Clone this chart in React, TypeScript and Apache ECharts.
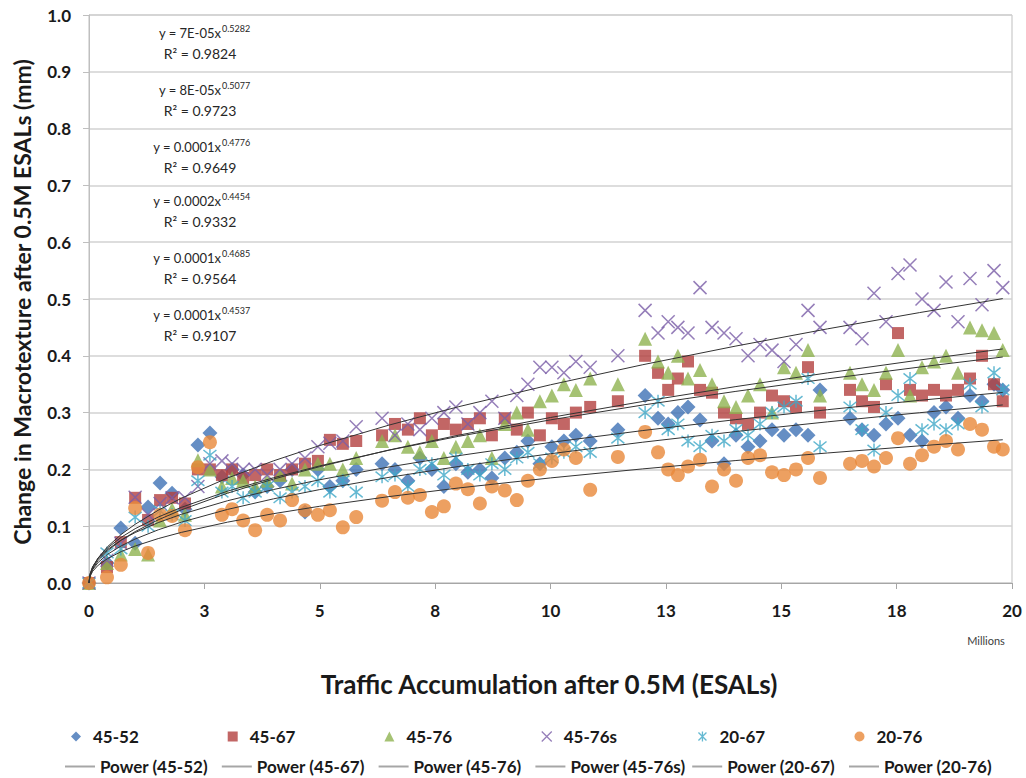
import React, { useEffect, useRef } from "react";
import * as echarts from "echarts";

// ---- data (x in millions of ESALs after 0.5M) ----
const X = [0, 0.39, 0.69, 1.0, 1.28, 1.54, 1.8, 2.08, 2.36, 2.62, 2.88, 3.1, 3.34, 3.6, 3.86, 4.14, 4.4, 4.68, 4.96, 5.22, 5.5, 5.79, 6.35, 6.63, 6.91, 7.17, 7.43, 7.69, 7.95, 8.21, 8.47, 8.73, 9.01, 9.27, 9.51, 9.77, 10.03, 10.29, 10.55, 10.86, 11.46, 12.05, 12.33, 12.55, 12.76, 12.98, 13.24, 13.5, 13.76, 14.02, 14.28, 14.54, 14.8, 15.06, 15.32, 15.58, 15.84, 16.49, 16.75, 17.01, 17.27, 17.53, 17.79, 18.05, 18.31, 18.57, 18.83, 19.09, 19.35, 19.61, 19.8];

const S45_52 = [0, 0.035, 0.097, 0.07, 0.134, 0.176, 0.158, 0.13, 0.243, 0.264, 0.187, 0.2, 0.19, 0.16, 0.17, 0.18, 0.2, 0.125, 0.2, 0.17, 0.18, 0.2, 0.21, 0.2, 0.18, 0.22, 0.2, 0.17, 0.21, 0.195, 0.2, 0.185, 0.22, 0.23, 0.25, 0.21, 0.24, 0.25, 0.26, 0.25, 0.27, 0.33, 0.29, 0.28, 0.3, 0.31, 0.287, 0.25, 0.21, 0.26, 0.24, 0.25, 0.27, 0.26, 0.27, 0.26, 0.34, 0.29, 0.27, 0.26, 0.28, 0.29, 0.26, 0.25, 0.3, 0.31, 0.29, 0.33, 0.32, 0.35, 0.34];
const S45_67 = [0, 0.028, 0.072, 0.15, 0.111, 0.146, 0.15, 0.14, 0.2, 0.2, 0.19, 0.2, 0.185, 0.19, 0.2, 0.19, 0.2, 0.21, 0.215, 0.252, 0.245, 0.25, 0.26, 0.28, 0.27, 0.29, 0.26, 0.28, 0.27, 0.28, 0.29, 0.26, 0.29, 0.27, 0.3, 0.26, 0.29, 0.28, 0.3, 0.31, 0.32, 0.4, 0.37, 0.34, 0.36, 0.39, 0.34, 0.335, 0.3, 0.29, 0.28, 0.3, 0.33, 0.32, 0.31, 0.38, 0.3, 0.34, 0.32, 0.31, 0.35, 0.44, 0.34, 0.33, 0.34, 0.33, 0.34, 0.36, 0.4, 0.35, 0.32];
const S45_76 = [0, 0.035, 0.05, 0.06, 0.05, 0.11, 0.13, 0.12, 0.216, 0.2, 0.17, 0.185, 0.18, 0.17, 0.18, 0.19, 0.175, 0.2, 0.21, 0.21, 0.2, 0.22, 0.25, 0.26, 0.24, 0.23, 0.25, 0.22, 0.24, 0.25, 0.26, 0.22, 0.28, 0.3, 0.27, 0.32, 0.33, 0.35, 0.34, 0.36, 0.35, 0.43, 0.39, 0.37, 0.4, 0.36, 0.375, 0.35, 0.32, 0.31, 0.33, 0.35, 0.3, 0.38, 0.37, 0.41, 0.33, 0.37, 0.35, 0.34, 0.37, 0.41, 0.33, 0.38, 0.39, 0.4, 0.37, 0.45, 0.445, 0.44, 0.41];
const S45_76s = [0, 0.04, 0.07, 0.151, 0.12, 0.14, 0.15, 0.15, 0.17, 0.21, 0.215, 0.21, 0.2, 0.2, 0.19, 0.2, 0.21, 0.22, 0.24, 0.246, 0.25, 0.275, 0.29, 0.26, 0.28, 0.27, 0.29, 0.3, 0.31, 0.28, 0.3, 0.32, 0.29, 0.33, 0.35, 0.38, 0.38, 0.37, 0.39, 0.38, 0.4, 0.48, 0.44, 0.46, 0.45, 0.44, 0.52, 0.45, 0.44, 0.43, 0.4, 0.42, 0.41, 0.39, 0.42, 0.48, 0.45, 0.45, 0.43, 0.51, 0.46, 0.545, 0.56, 0.5, 0.48, 0.53, 0.46, 0.536, 0.49, 0.55, 0.52];
const S20_67 = [0, 0.053, 0.06, 0.116, 0.1, 0.127, 0.12, 0.11, 0.18, 0.225, 0.16, 0.17, 0.15, 0.16, 0.17, 0.15, 0.16, 0.17, 0.18, 0.16, 0.18, 0.16, 0.187, 0.19, 0.17, 0.2, 0.21, 0.19, 0.22, 0.2, 0.19, 0.21, 0.2, 0.22, 0.23, 0.21, 0.22, 0.23, 0.24, 0.23, 0.255, 0.3, 0.32, 0.27, 0.28, 0.25, 0.24, 0.26, 0.25, 0.27, 0.26, 0.28, 0.3, 0.31, 0.32, 0.36, 0.24, 0.31, 0.27, 0.234, 0.3, 0.33, 0.36, 0.27, 0.28, 0.27, 0.28, 0.35, 0.31, 0.37, 0.34];
const S20_76 = [0, 0.01, 0.032, 0.132, 0.053, 0.12, 0.118, 0.093, 0.204, 0.248, 0.12, 0.13, 0.11, 0.093, 0.12, 0.11, 0.146, 0.128, 0.12, 0.128, 0.098, 0.116, 0.145, 0.16, 0.15, 0.155, 0.125, 0.135, 0.175, 0.165, 0.14, 0.17, 0.163, 0.146, 0.18, 0.2, 0.215, 0.235, 0.22, 0.164, 0.222, 0.266, 0.23, 0.2, 0.19, 0.205, 0.217, 0.17, 0.2, 0.18, 0.22, 0.225, 0.195, 0.19, 0.2, 0.22, 0.185, 0.21, 0.215, 0.205, 0.22, 0.255, 0.21, 0.225, 0.24, 0.25, 0.235, 0.28, 0.27, 0.24, 0.235];

// power trendlines
const TX = [0, 0.02, 0.08, 0.2, 0.4, 0.7, 1, 1.5, 2, 3, 4, 5, 6.5, 8, 10, 12, 14, 16, 18, 19.8];
const T45_52 = [0, 0.0155, 0.0288, 0.0433, 0.059, 0.0757, 0.0888, 0.1063, 0.1209, 0.1448, 0.1646, 0.1818, 0.2043, 0.2241, 0.2475, 0.2684, 0.2875, 0.3051, 0.3216, 0.3355];
const T45_67 = [0, 0.0148, 0.0286, 0.0443, 0.0617, 0.0806, 0.0956, 0.1161, 0.1331, 0.1616, 0.1854, 0.2062, 0.2338, 0.2581, 0.2872, 0.3133, 0.3372, 0.3594, 0.3802, 0.3979];
const T45_76 = [0, 0.0124, 0.0251, 0.04, 0.0568, 0.0755, 0.0905, 0.1112, 0.1287, 0.1581, 0.183, 0.2049, 0.2341, 0.2601, 0.2914, 0.3196, 0.3456, 0.3699, 0.3926, 0.4121];
const T45_76s = [0, 0.0131, 0.0273, 0.0442, 0.0638, 0.0857, 0.1034, 0.1281, 0.1492, 0.1848, 0.2151, 0.242, 0.278, 0.3102, 0.349, 0.3843, 0.4169, 0.4474, 0.4761, 0.5007];
const T20_67 = [0, 0.0124, 0.0237, 0.0364, 0.0504, 0.0655, 0.0774, 0.0936, 0.1071, 0.1295, 0.1482, 0.1645, 0.186, 0.205, 0.2276, 0.2479, 0.2665, 0.2837, 0.2998, 0.3135];
const T20_76 = [0, 0.011, 0.0207, 0.0314, 0.0429, 0.0554, 0.0651, 0.0782, 0.0891, 0.1071, 0.1221, 0.1351, 0.1521, 0.1672, 0.185, 0.2009, 0.2155, 0.2289, 0.2415, 0.2522];

const NAMES = ["45-52", "45-67", "45-76", "45-76s", "20-67", "20-76"];
const POWER_NAMES = ["Power (45-52)", "Power (45-67)", "Power (45-76)", "Power (45-76s)", "Power (20-67)", "Power (20-76)"];

const EQ_BASE = ["y = 7E-05x", "y = 8E-05x", "y = 0.0001x", "y = 0.0002x", "y = 0.0001x", "y = 0.0001x"];
const EQ_EXP = ["0.5282", "0.5077", "0.4776", "0.4454", "0.4685", "0.4537"];
const EQ_R2 = ["R² = 0.9824", "R² = 0.9723", "R² = 0.9649", "R² = 0.9332", "R² = 0.9564", "R² = 0.9107"];

const X_TITLE = "Traffic Accumulation after 0.5M (ESALs)";
const Y_TITLE = "Change in Macrotexture after 0.5M ESALs (mm)";
const X_UNIT = "Millions";

// ---- styles ----
const FONT = "Lato";
const COLORS = ["#3f72b5", "#b3403e", "#8fb350", "#7b5ea7", "#3fa7c7", "#e8883a"];
const SYMBOLS = [
  "diamond",
  "rect",
  "triangle",
  "path://M0,0L10,10M10,0L0,10",
  "path://M1,1L9,9M9,1L1,9M5,0L5,10",
  "circle",
];
const LEGEND_ICONS = [
  "path://M5,0L10,5L5,10L0,5Z",
  "path://M0,0L10,0L10,10L0,10Z",
  "path://M5,0L10,10L0,10Z",
  "path://M0,0L10,10M10,0L0,10",
  "path://M1,1L9,9M9,1L1,9M5,0L5,10",
  "path://M5,0A5,5,0,1,1,5,10A5,5,0,1,1,5,0Z",
];
const SIZES = [15, 12, 14, 13, 13, 14];
const STROKED = [false, false, false, true, true, false];
const EQ_Y = [33, 90, 147, 201, 258, 315];

export default function App() {
  const ref = useRef<HTMLDivElement>(null);

  useEffect(() => {
    if (!ref.current) return;
    const chart = echarts.init(ref.current, null, { renderer: "svg" });

    const scatterData = [S45_52, S45_67, S45_76, S45_76s, S20_67, S20_76];
    const trendData = [T45_52, T45_67, T45_76, T45_76s, T20_67, T20_76];

    const series: any[] = [];
    NAMES.forEach((name, i) => {
      series.push({
        type: "scatter",
        name,
        data: X.map((x, k) => [x, scatterData[i][k]]),
        symbol: SYMBOLS[i],
        symbolSize: SIZES[i],
        clip: false,
        z: 2,
        itemStyle: STROKED[i]
          ? { color: "rgba(0,0,0,0)", borderColor: COLORS[i], borderWidth: 1.5 }
          : { color: COLORS[i] },
      });
    });
    POWER_NAMES.forEach((name, i) => {
      series.push({
        type: "line",
        name,
        data: TX.map((x, k) => [x, trendData[i][k]]),
        smooth: false,
        symbol: "none",
        showSymbol: false,
        z: 3,
        lineStyle: { color: "#333333", width: 1 },
        itemStyle: { color: "#333333" },
      });
    });

    const legendText = { fontSize: 17, fontWeight: "bold", fontFamily: FONT, color: "#1a1a1a" };
    const legends: any[] = [];
    NAMES.forEach((name, i) => {
      legends.push({
        data: [{ name, icon: LEGEND_ICONS[i] }],
        left: 71 + i * 156.7,
        top: 728,
        itemWidth: 24,
        itemHeight: 10,
        symbolKeepAspect: true,
        selectedMode: false,
        padding: 0,
        textStyle: legendText,
        itemStyle: STROKED[i] ? { borderWidth: 1.3 } : {},
      });
    });
    POWER_NAMES.forEach((name, i) => {
      legends.push({
        data: [{ name, icon: "rect" }],
        left: 65 + i * 156.8,
        top: 758,
        itemWidth: 30,
        itemHeight: 2,
        selectedMode: false,
        padding: 0,
        textStyle: legendText,
        itemStyle: { color: "#a6a6a6", borderWidth: 0 },
      });
    });

    const graphics: any[] = [];
    EQ_BASE.forEach((b, i) => {
      const y = EQ_Y[i];
      graphics.push({
        type: "text",
        x: 221,
        y,
        style: { text: b, fontSize: 13, fontFamily: FONT, fill: "#262626", textAlign: "right", textVerticalAlign: "middle" },
      });
      graphics.push({
        type: "text",
        x: 222,
        y: y - 5,
        style: { text: EQ_EXP[i], fontSize: 9, fontFamily: FONT, fill: "#262626", textAlign: "left", textVerticalAlign: "middle" },
      });
      graphics.push({
        type: "text",
        x: 200,
        y: y + 20,
        style: { text: EQ_R2[i], fontSize: 14, fontFamily: FONT, fill: "#262626", textAlign: "center", textVerticalAlign: "middle" },
      });
    });
    graphics.push({
      type: "text",
      x: 549,
      y: 684,
      style: { text: X_TITLE, fontSize: 26, fontWeight: "bold", fontFamily: FONT, fill: "#1a1a1a", textAlign: "center", textVerticalAlign: "middle" },
    });
    graphics.push({
      type: "text",
      x: 22,
      y: 302,
      rotation: Math.PI / 2,
      style: { text: Y_TITLE, fontSize: 23, fontWeight: "bold", fontFamily: FONT, fill: "#1a1a1a", textAlign: "center", textVerticalAlign: "middle" },
    });
    graphics.push({
      type: "text",
      x: 986,
      y: 640,
      style: { text: X_UNIT, fontSize: 11, fontFamily: FONT, fill: "#404040", textAlign: "center", textVerticalAlign: "middle" },
    });

    chart.setOption({
      animation: false,
      backgroundColor: "#ffffff",
      grid: { left: 89, right: 14, top: 15, bottom: 195, show: true, borderColor: "#bfbfbf", borderWidth: 1 },
      xAxis: {
        type: "value",
        min: 0,
        max: 20,
        interval: 2.5,
        axisLine: { show: true, lineStyle: { color: "#a6a6a6", width: 1 } },
        axisTick: { show: true, length: 6, lineStyle: { color: "#a6a6a6" } },
        splitLine: { show: false },
        axisLabel: {
          margin: 19,
          fontSize: 17,
          fontWeight: "bold",
          fontFamily: FONT,
          color: "#1a1a1a",
          formatter: (v: number) => String(Math.round(v)),
        },
      },
      yAxis: {
        type: "value",
        min: 0,
        max: 1,
        interval: 0.1,
        axisLine: { show: true, lineStyle: { color: "#bfbfbf", width: 1 } },
        axisTick: { show: true, length: 6, lineStyle: { color: "#bfbfbf" } },
        splitLine: { show: true, lineStyle: { color: "#d2d2d2", width: 1.5 } },
        axisLabel: {
          margin: 18,
          fontSize: 17,
          fontWeight: "bold",
          fontFamily: FONT,
          color: "#1a1a1a",
          formatter: (v: number) => v.toFixed(1),
        },
      },
      legend: legends,
      graphic: graphics,
      series,
    });

    return () => chart.dispose();
  }, []);

  return (
    <div
      ref={ref}
      style={{ position: "fixed", left: 0, top: 0, width: 1026, height: 778, background: "#fff" }}
    />
  );
}
